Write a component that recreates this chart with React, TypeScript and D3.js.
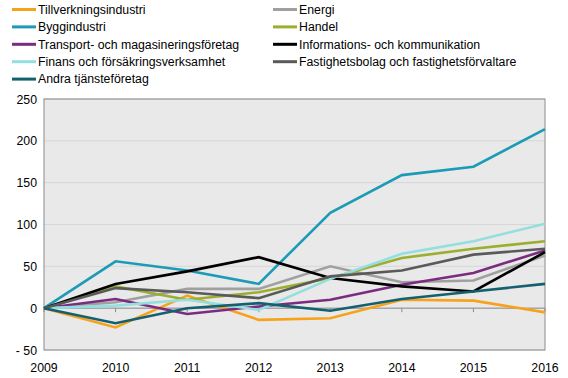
import React from "react";
import * as d3 from "d3";

const years = [2009, 2010, 2011, 2012, 2013, 2014, 2015, 2016];
const yTicks = [-50, 0, 50, 100, 150, 200, 250];

const seriesNames = [
  "Tillverkningsindustri",
  "Energi",
  "Byggindustri",
  "Handel",
  "Transport- och magasineringsföretag",
  "Informations- och kommunikation",
  "Finans och försäkringsverksamhet",
  "Fastighetsbolag och fastighetsförvaltare",
  "Andra tjänsteföretag",
];
const seriesColors = [
  "#f7a21b",
  "#a0a0a0",
  "#1b9bb5",
  "#9bae2f",
  "#7b2c80",
  "#000000",
  "#93dfe0",
  "#5a5a5a",
  "#14606e",
];

const tillverkning = [0, -23, 15, -14, -12, 10, 9, -5];
const energi = [0, 7, 23, 23, 50, 31, 33, 63];
const bygg = [0, 56, 45, 29, 114, 159, 169, 214];
const handel = [0, 26, 10, 19, 36, 60, 71, 80];
const transport = [0, 11, -7, 2, 10, 28, 42, 69];
const informations = [0, 29, 44, 61, 36, 26, 20, 67];
const finans = [0, 3, 10, -2, 35, 65, 80, 101];
const fastighet = [0, 24, 19, 12, 38, 45, 64, 71];
const andra = [0, -18, 0, 6, -3, 11, 20, 29];

const seriesValues = [
  tillverkning,
  energi,
  bygg,
  handel,
  transport,
  informations,
  finans,
  fastighet,
  andra,
];

export default function App() {
  const W = 568;
  const H = 378;
  const left = 44;
  const right = 545;
  const top = 99;
  const bottom = 350;

  const x = d3.scaleLinear().domain([2009, 2016]).range([left, right]);
  const y = d3.scaleLinear().domain([-50, 250]).range([bottom, top]);
  const line = d3
    .line<number>()
    .x((_, i) => x(years[i]))
    .y((d) => y(d));

  const font = "Liberation Sans, Arial, sans-serif";

  return (
    <svg
      width={W}
      height={H}
      style={{ position: "absolute", left: 0, top: 0 }}
      fontFamily={font}
    >
      <rect x={0} y={0} width={W} height={H} fill="#fff" />
      {/* legend */}
      {seriesNames.map((name, i) => {
        const col = i % 2;
        const row = Math.floor(i / 2);
        const lx = col === 0 ? 12 : 273;
        const ly = 9.5 + row * 17.4;
        return (
          <g key={name}>
            <line
              x1={lx}
              x2={lx + 24}
              y1={ly}
              y2={ly}
              stroke={seriesColors[i]}
              strokeWidth={3}
            />
            <text x={lx + 26} y={ly + 4.3} fontSize={12.3} fill="#000">
              {name}
            </text>
          </g>
        );
      })}
      {/* plot background */}
      <rect
        x={left}
        y={top}
        width={right - left}
        height={bottom - top}
        fill="#e9e9e9"
      />
      {yTicks.map((t) => (
        <line
          key={"g" + t}
          x1={left}
          x2={right}
          y1={y(t)}
          y2={y(t)}
          stroke="#d6d6d6"
          strokeWidth={1}
        />
      ))}
      {/* zero axis */}
      <line x1={left} x2={right} y1={y(0)} y2={y(0)} stroke="#8c8c8c" strokeWidth={1} />
      {years.map((yr) => (
        <line
          key={"t" + yr}
          x1={x(yr)}
          x2={x(yr)}
          y1={y(0)}
          y2={y(0) + 4}
          stroke="#8c8c8c"
          strokeWidth={1}
        />
      ))}
      <rect
        x={left}
        y={top}
        width={right - left}
        height={bottom - top}
        fill="none"
        stroke="#8c8c8c"
        strokeWidth={1}
      />
      {/* lines */}
      {seriesValues.map((vals, i) => (
        <path
          key={seriesNames[i]}
          d={line(vals) || ""}
          fill="none"
          stroke={seriesColors[i]}
          strokeWidth={2.6}
          strokeLinejoin="miter"
        />
      ))}
      {/* y labels */}
      {yTicks.map((t) => (
        <text
          key={"y" + t}
          x={37}
          y={y(t) + 4.5}
          textAnchor="end"
          fontSize={12.3}
          fill="#000"
        >
          {t < 0 ? "- " + Math.abs(t) : String(t)}
        </text>
      ))}
      {years.map((yr) => (
        <text
          key={"x" + yr}
          x={x(yr)}
          y={372}
          textAnchor="middle"
          fontSize={12.3}
          fill="#000"
        >
          {yr}
        </text>
      ))}
    </svg>
  );
}
